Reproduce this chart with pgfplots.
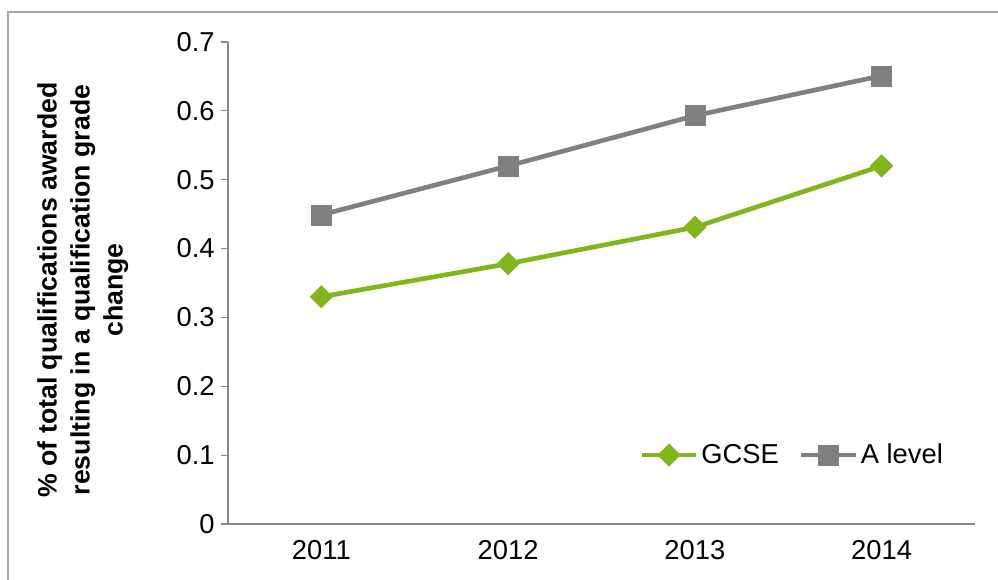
\documentclass[border=0pt]{standalone}
\usepackage{fontspec}
\setmainfont{Liberation Sans}
\usepackage{pgfplots}
\pgfplotsset{compat=1.18}
\definecolor{gcse}{RGB}{128,182,28}
\definecolor{alev}{RGB}{128,128,128}
\definecolor{axgray}{RGB}{134,134,134}
\definecolor{bordergray}{RGB}{165,165,165}
\begin{document}
\begin{tikzpicture}
\begin{axis}[
  at={(171pt,42pt)}, anchor=south west,
  scale only axis, width=560.25pt, height=361.5pt,
  xmin=0.5, xmax=4.5, ymin=0, ymax=0.7,
  axis lines*=left,
  axis line style={draw=axgray, line width=0.9pt, -},
  xtick={1,2,3,4},
  xticklabels={2011,2012,2013,2014},
  x tick style={draw=none},
  minor xtick={0.5,1.5,2.5,3.5,4.5},
  ytick={0,0.1,0.2,0.3,0.4,0.5,0.6,0.7},
  tick align=outside,
  major tick length=5.5pt, minor tick length=5.5pt,
  tick style={draw=axgray, line width=0.9pt},
  minor tick style={draw=axgray, line width=0.9pt},
  /pgf/number format/assume math mode=true,
  tick label style={font=\fontsize{20.5}{24}\selectfont, text=black},
  xticklabel style={yshift=-3pt},
  yticklabel style={xshift=-1pt},
  legend columns=2,
  legend style={at={(0.545,0.143)}, anchor=west, draw=none, fill=none,
    font=\fontsize{20.5}{24}\selectfont,
    /tikz/every even column/.append style={column sep=13pt}},
  legend cell align=left,
  legend image code/.code={%
    \draw[mark repeat=2, mark phase=2, #1] plot coordinates {(0pt,0pt) (20.5pt,0pt) (41pt,0pt)};},
]
\addplot[color=gcse, line width=3.5pt, mark=square*, mark size=6pt,
  mark options={rotate=45, line width=0.3pt, fill=gcse}]
  coordinates {(1,0.33) (2,0.378) (3,0.431) (4,0.52)};
\addlegendentry{GCSE}
\addplot[color=alev, line width=3.5pt, mark=square*, mark size=7.5pt,
  mark options={line width=0.3pt, fill=alev}]
  coordinates {(1,0.449) (2,0.52) (3,0.593) (4,0.651)};
\addlegendentry{A level}
\end{axis}
\node[rotate=90, align=center, font=\bfseries\fontsize{20}{24.75}\selectfont]
  at (62pt,217.5pt) {\% of total qualifications awarded\\resulting in a qualification grade\\change};
\draw[bordergray, line width=0.8pt] (6pt,-10pt) -- (6pt,426pt) -- (760pt,426pt);
\pgfresetboundingbox
\useasboundingbox (0pt,0pt) rectangle (748.5pt,435pt);
\end{tikzpicture}
\end{document}
